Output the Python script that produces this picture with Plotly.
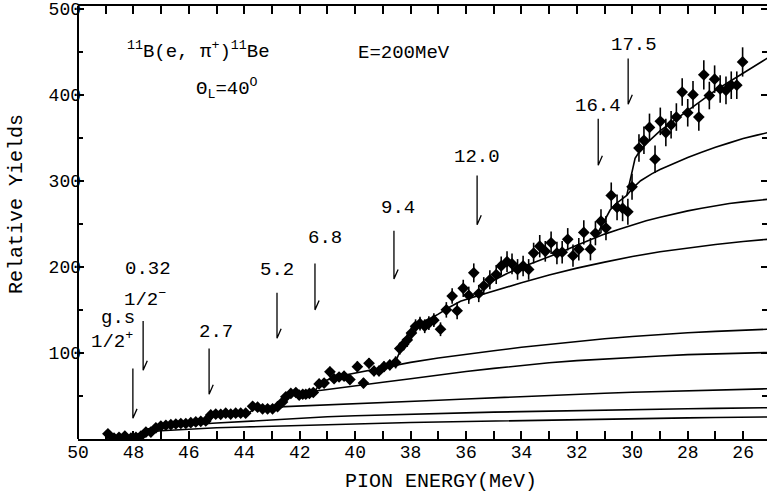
import plotly.graph_objects as go

# ---------------- data ----------------
energy = [48.92, 48.70, 48.52, 48.31, 48.09, 47.91, 47.73, 47.55, 47.37, 47.19,
          47.01, 46.83, 46.65, 46.47, 46.29, 46.11, 45.93, 45.75, 45.57, 45.39,
          45.21, 45.03, 44.85, 44.67, 44.49, 44.31, 44.13, 43.95, 43.70, 43.52,
          43.34, 43.16, 42.98, 42.80, 42.62, 42.50, 42.32, 42.14, 42.02, 41.89,
          41.78, 41.65, 41.51, 41.30, 41.12, 40.91, 40.76, 40.58, 40.40, 40.19,
          39.92, 39.70, 39.50, 39.32, 39.14, 38.96, 38.75, 38.54, 38.39, 38.25,
          38.12, 37.97, 37.82, 37.66, 37.49, 37.34, 37.16, 36.92, 36.71, 36.50,
          36.32, 36.10, 35.90, 35.72, 35.54, 35.36, 35.14, 34.91, 34.73, 34.52,
          34.34, 34.14, 33.94, 33.74, 33.56, 33.34, 33.14, 32.93, 32.72, 32.53,
          32.33, 32.14, 31.93, 31.75, 31.51, 31.33, 31.13, 30.95, 30.76, 30.55,
          30.35, 30.16, 30.01, 29.76, 29.58, 29.38, 29.18, 28.99, 28.79, 28.60,
          28.41, 28.20, 28.00, 27.81, 27.60, 27.42, 27.22, 27.03, 26.83, 26.62,
          26.43, 26.23, 26.02]
yields = [6, 1, 2, 3.5, 1, 2, 3.5, 8, 8, 13,
          15, 16, 16.6, 17.4, 18, 18, 19, 19.8, 20.5, 21,
          28, 29, 28.7, 30, 29, 30, 30, 30, 38, 37,
          35, 35, 35, 37.6, 43, 49, 53, 54, 51, 52,
          52, 53, 54, 64, 65, 78, 70, 72, 73, 69,
          84, 65, 88, 79, 79, 84, 86, 89, 105, 110,
          115, 123, 131, 134, 131, 134.5, 138, 127.5, 150, 166,
          149, 175, 167, 193, 169, 178, 185, 191, 201, 206,
          203.5, 197, 201, 197, 216, 224, 218, 228, 216, 217,
          232, 213, 220.5, 240, 220.5, 239, 253, 245, 283, 269,
          268, 264, 293, 338, 347, 362, 325, 369, 356, 365,
          374, 403, 379, 400, 374, 423, 399, 418, 406.6, 405,
          411, 411, 438]
errors = [3, 2, 2, 2, 2, 2, 2, 2.5, 2.5, 2.5,
          2.5, 2.5, 2.5, 2.5, 2.5, 2.5, 2.5, 2.5, 2.5, 2.5,
          3, 3, 3, 3, 3, 3, 3, 3, 3.5, 3.5,
          3.5, 3.5, 3.5, 3.5, 4, 4, 4, 4, 4, 4,
          5, 5, 5, 5, 5, 6, 5, 5, 5, 5,
          6, 6, 6, 6, 6, 6, 6, 7, 7, 7,
          8, 8, 8, 8, 8, 8, 8, 8, 9, 9,
          10, 10, 10, 11, 10, 10, 11, 11, 11, 12,
          12, 12, 12, 12, 12, 13, 12, 13, 13, 13,
          13, 13, 13, 14, 13, 14, 14, 14, 15, 15,
          15, 15, 15, 16, 16, 16, 16, 16, 16, 16,
          16, 16, 16, 16, 16, 17, 16, 16, 16, 16,
          16, 16, 17]

# theoretical cumulative curves (each starts at its threshold)
curve1_e = [48.05, 47.95, 47.8, 47.5, 47.0, 46.0, 45.0, 44.0, 43.0, 42.0, 41.0, 40.0, 39.0,
            38.0, 37.0, 36.0, 35.0, 34.0, 33.0, 32.0, 31.0, 30.0, 29.0, 28.0, 27.0, 26.0, 25.1]
curve1_y = [0, 4, 6, 8, 9.5, 11.5, 13, 14, 15, 16, 17, 17.8, 18.5,
            19.2, 19.8, 20.4, 21, 21.5, 22, 22.6, 23.1, 23.6, 24.1, 24.5, 24.9, 25.3, 25.6]
curve2_e = [47.65, 47.55, 47.3, 47.0, 46.0, 45.0, 44.0, 43.0, 42.0, 41.0, 40.0, 39.0, 38.0,
            37.0, 36.0, 35.0, 34.0, 33.0, 32.0, 31.0, 30.0, 29.0, 28.0, 27.0, 26.0, 25.1]
curve2_y = [7.5, 11, 13, 14, 16.5, 18.5, 20.5, 22.5, 24.5, 25.8, 27, 28, 29,
            29.8, 30.5, 31.2, 31.8, 32.5, 33.1, 33.7, 34.2, 34.7, 35.2, 35.6, 36, 36.3]
curve3_e = [45.27, 45.15, 45.0, 44.5, 44.0, 43.8, 43.65, 43.4, 43.0, 42.0, 41.0, 40.0, 39.0,
            38.0, 37.0, 36.0, 35.0, 34.0, 33.0, 32.0, 31.0, 30.0, 29.0, 28.0, 27.0, 26.0, 25.1]
curve3_y = [18.7, 26, 27.5, 28.5, 29.5, 31, 35, 36.5, 37, 38, 39.3, 40.5, 42,
            43.5, 45, 46.5, 48, 49.5, 50.8, 52, 53.2, 54.3, 55.3, 56.2, 57, 57.8, 58.4]
curve4_e = [42.82, 42.65, 42.5, 42.3, 42.0, 41.5, 41.0, 40.0, 39.0, 38.0, 37.0, 36.0, 35.0,
            34.0, 33.0, 32.0, 31.0, 30.0, 29.0, 28.0, 27.0, 26.0, 25.1]
curve4_y = [37.3, 43, 49, 52, 53.5, 55.5, 57.5, 62, 66, 70, 74.5, 78.5, 82,
            85.5, 88.5, 91, 93, 95, 96.5, 98, 99, 100, 100.5]
curve5_e = [41.45, 41.3, 41.1, 40.8, 40.5, 40.0, 39.0, 38.0, 37.0, 36.0, 35.0, 34.0, 33.0,
            32.0, 31.0, 30.0, 29.0, 28.0, 27.0, 26.0, 25.1]
curve5_y = [55.8, 63, 67.5, 71, 73.5, 76.5, 83, 89, 94, 98.5, 102.5, 106.5, 110,
            113.5, 116.5, 119, 121.5, 123.5, 125, 126.5, 127.5]
curve6_e = [38.6, 38.45, 38.3, 38.15, 38.0, 37.8, 37.5, 37.2, 37.0, 36.6, 36.2, 35.6, 35.0,
            34.0, 33.0, 32.0, 31.0, 30.0, 29.0, 28.0, 27.0, 26.0, 25.1]
curve6_y = [85.5, 97, 108, 117, 124, 131, 137, 141.5, 145, 153, 160, 166, 172,
            181.5, 190.5, 198.5, 205.5, 212, 217.5, 222, 226, 229.5, 232]
curve7_e = [35.6, 35.4, 35.2, 35.0, 34.5, 34.0, 33.5, 33.0, 32.5, 32.0, 31.5, 31.0, 30.5,
            30.0, 29.5, 29.0, 28.5, 28.0, 27.5, 27.0, 26.5, 26.0, 25.5, 25.1]
curve7_y = [166, 174, 180, 184.5, 192.5, 199.5, 205.5, 211.5, 218, 225, 231.5, 238, 243.5,
            248.5, 253.5, 257.5, 261.5, 265, 268, 271, 273.5, 275.5, 277.5, 278.5]
curve8_e = [31.3, 31.2, 31.0, 30.8, 30.6, 30.4, 30.2, 30.0, 29.7, 29.3, 29.0, 28.5, 28.0,
            27.5, 27.0, 26.5, 26.0, 25.5, 25.1]
curve8_y = [236, 242, 255, 266, 273, 278, 283, 291, 300, 308, 313, 320, 327,
            333, 339, 344, 349, 353, 356]
curve9_e = [30.2, 30.1, 30.0, 29.9, 29.7, 29.4, 29.0, 28.5, 28.0, 27.5, 27.0, 26.5, 26.0, 25.5, 25.1]
curve9_y = [283, 298, 314, 326, 336, 346, 358, 370, 382, 394, 405, 415, 425, 435, 443]

# state markers (arrows) and labels
arrow_e = [48.02, 47.65, 45.27, 42.82, 41.45, 38.60, 35.60, 31.23, 30.15]
arrow_top = [82, 137, 105, 170, 204, 242, 306, 372, 442]
arrow_tip = [24, 80, 52, 117, 150, 186, 249, 318, 389]
label_text = ["g.s", "1/2<sup>+</sup>", "0.32", "1/2<sup>−</sup>", "2.7", "5.2", "6.8",
              "9.4", "12.0", "16.4", "17.5"]
label_e = [48.56, 48.77, 47.47, 47.58, 45.02, 42.82, 41.09, 38.45, 35.60, 31.23, 29.94]
label_y = [141, 114, 197.5, 163, 124.7, 196, 233, 268, 328, 387, 458]

x_ticks = [50, 48, 46, 44, 42, 40, 38, 36, 34, 32, 30, 28, 26]
y_ticks = [100, 200, 300, 400, 500]

FONT = "Liberation Mono"
fig = go.Figure()

curves = [(curve1_e, curve1_y), (curve2_e, curve2_y), (curve3_e, curve3_y),
          (curve4_e, curve4_y), (curve5_e, curve5_y), (curve6_e, curve6_y),
          (curve7_e, curve7_y), (curve8_e, curve8_y), (curve9_e, curve9_y)]
for ce, cy in curves:
    fig.add_trace(go.Scatter(x=ce, y=cy, mode="lines",
                             line=dict(color="black", width=1.6),
                             hoverinfo="skip", showlegend=False))

fig.add_trace(go.Scatter(
    x=energy, y=yields, mode="markers",
    marker=dict(symbol="diamond", size=9, color="black"),
    error_y=dict(type="data", array=errors, thickness=1.6, width=0, color="black"),
    showlegend=False))

# arrows: vertical stroke + small barb up-right at the tip
ax_, ay_ = [], []
for e, t, b in zip(arrow_e, arrow_top, arrow_tip):
    ax_ += [e, e, e - 0.15, None]
    ay_ += [t, b, b + 11, None]
fig.add_trace(go.Scatter(x=ax_, y=ay_, mode="lines",
                         line=dict(color="black", width=1.3),
                         hoverinfo="skip", showlegend=False))

for t, e, v in zip(label_text, label_e, label_y):
    fig.add_annotation(x=e, y=v, xref="x", yref="y", text=t, showarrow=False,
                       font=dict(family=FONT, size=19, color="black"),
                       xanchor="center", yanchor="middle")

fig.add_annotation(x=(125 - 78) / 689, y=(439 - 50) / 433, xref="paper", yref="paper",
                   text="<sup>11</sup>B(e, π<sup>+</sup>)<sup>11</sup>Be", showarrow=False,
                   font=dict(family=FONT, size=19, color="black"),
                   xanchor="left", yanchor="middle")
fig.add_annotation(x=(356 - 78) / 689, y=(439 - 53) / 433, xref="paper", yref="paper",
                   text="E=200MeV", showarrow=False,
                   font=dict(family=FONT, size=19, color="black"),
                   xanchor="left", yanchor="middle")
fig.add_annotation(x=(194 - 78) / 689, y=(439 - 88) / 433, xref="paper", yref="paper",
                   text="Θ<sub>L</sub>=40<sup>O</sup>", showarrow=False,
                   font=dict(family=FONT, size=19, color="black"),
                   xanchor="left", yanchor="middle")
fig.add_annotation(x=(16 - 78) / 689, y=(439 - 204) / 433, xref="paper", yref="paper",
                   text="Relative Yields", showarrow=False, textangle=-90,
                   font=dict(family=FONT, size=20, color="black"),
                   xanchor="center", yanchor="middle")
fig.add_annotation(x=(441 - 78) / 689, y=(439 - 481) / 433, xref="paper", yref="paper",
                   text="PION ENERGY(MeV)", showarrow=False,
                   font=dict(family=FONT, size=20, color="black"),
                   xanchor="center", yanchor="middle")

# left axis line
fig.add_shape(type="line", xref="paper", yref="paper", x0=0, x1=0, y0=0, y1=1,
              line=dict(color="black", width=2))

fig.update_xaxes(range=[50, 25.14], tickvals=x_ticks, ticktext=[str(v) for v in x_ticks],
                 ticks="inside", ticklen=8, tickwidth=1.5, tickcolor="black",
                 minor=dict(dtick=1, ticks="inside", ticklen=8, tickwidth=1.5, tickcolor="black"),
                 showline=True, linecolor="black", linewidth=2, mirror="ticks",
                 showgrid=False, zeroline=False, ticklabelstandoff=-5,
                 tickfont=dict(family=FONT, size=18, color="black"))
fig.update_yaxes(range=[0, 503], tickvals=y_ticks, ticktext=[str(v) for v in y_ticks],
                 ticks="inside", ticklen=6, tickwidth=1.5, tickcolor="black",
                 minor=dict(tick0=0, dtick=50, ticks="inside", ticklen=5, tickwidth=1.5,
                            tickcolor="black"),
                 showline=False, mirror="ticks", ticklabeloverflow="allow",
                 showgrid=False, zeroline=False, ticklabelstandoff=-4,
                 tickfont=dict(family=FONT, size=18, color="black"))

fig.update_layout(width=767, height=496, margin=dict(l=78, r=0, t=4, b=57),
                  paper_bgcolor="white", plot_bgcolor="white", showlegend=False)

fig.write_html("out.html")
